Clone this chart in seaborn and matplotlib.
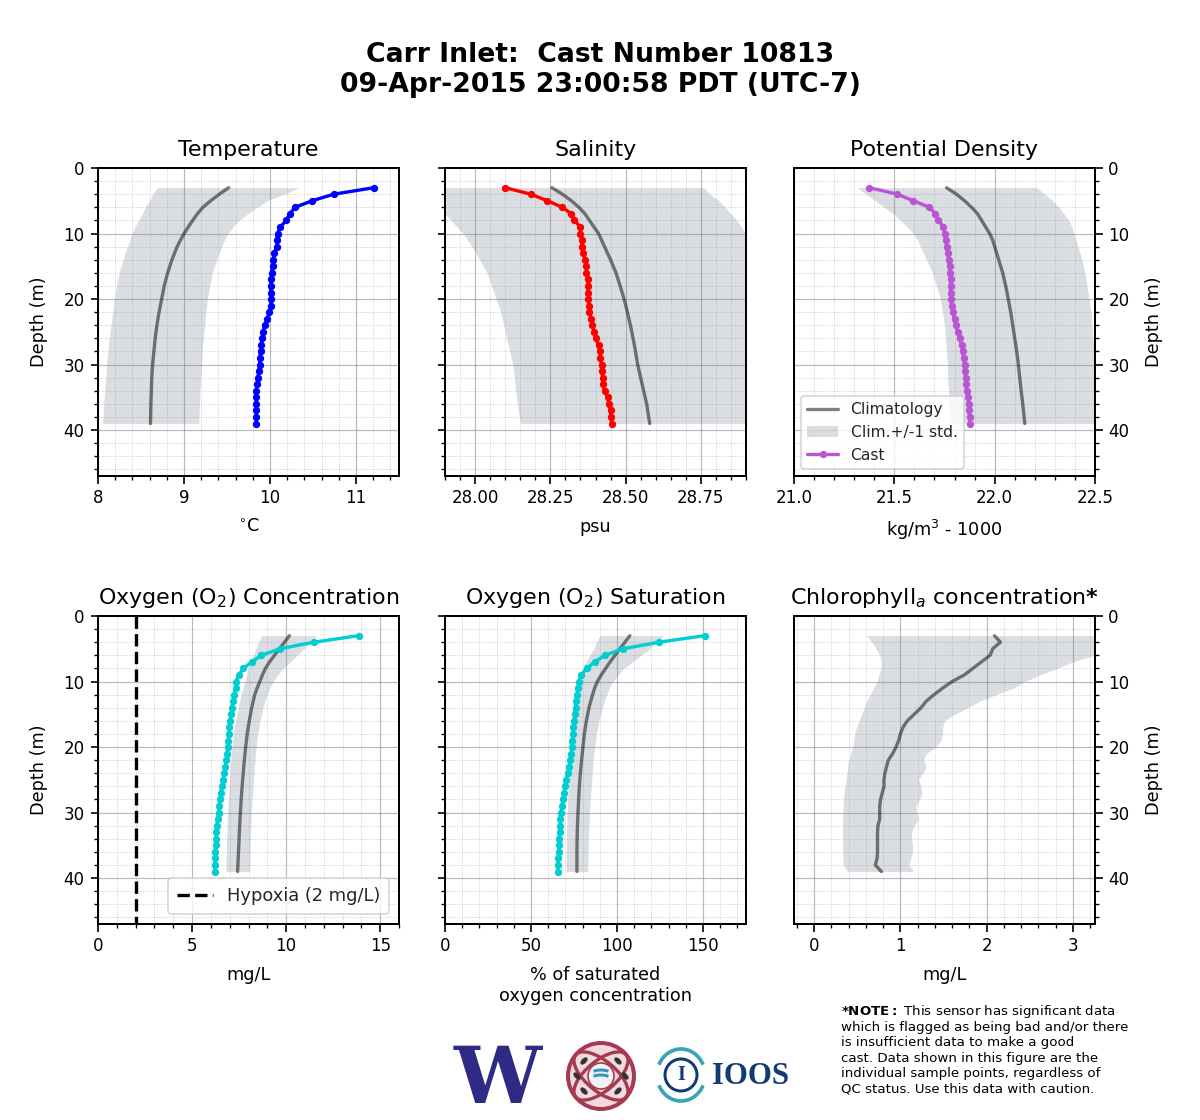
import numpy as np
import seaborn as sns
import matplotlib.pyplot as plt
from matplotlib.patches import Ellipse, Arc, Circle
from matplotlib.ticker import AutoMinorLocator

depth = list(range(3, 40))
clim_depth = [3, 4, 5, 6, 7, 8, 9, 10, 11, 12, 14, 16, 18, 20, 22, 24, 26, 28, 30, 32, 34, 36, 39]

temp_cast = [11.21, 10.74, 10.49, 10.29, 10.23, 10.19, 10.12, 10.09, 10.08, 10.08, 10.05, 10.04, 10.03,
             10.02, 10.01, 10.01, 10.01, 10.01, 10.01, 9.99, 9.97, 9.94, 9.92, 9.91, 9.90, 9.89, 9.88,
             9.88, 9.87, 9.86, 9.85, 9.84, 9.84, 9.84, 9.84, 9.84, 9.84]
temp_clim = [9.52, 9.41, 9.31, 9.22, 9.155, 9.10, 9.05, 9.0, 8.96, 8.92, 8.86, 8.81, 8.77, 8.74, 8.71, 8.685,
             8.665, 8.65, 8.635, 8.625, 8.62, 8.615, 8.61]
temp_lo = [8.69, 8.64, 8.60, 8.55, 8.515, 8.47, 8.43, 8.395, 8.37, 8.34, 8.29, 8.245, 8.215, 8.19, 8.17, 8.15,
           8.13, 8.115, 8.10, 8.09, 8.08, 8.065, 8.055]
temp_hi = [10.34, 10.16, 9.97, 9.85, 9.74, 9.64, 9.57, 9.51, 9.47, 9.44, 9.38, 9.33, 9.30, 9.27, 9.255, 9.24,
           9.225, 9.21, 9.205, 9.195, 9.185, 9.18, 9.17]

sal_cast = [28.10, 28.185, 28.24, 28.29, 28.32, 28.33, 28.35, 28.35, 28.355, 28.355, 28.36, 28.365, 28.37,
            28.37, 28.375, 28.375, 28.375, 28.375, 28.38, 28.38, 28.385, 28.39, 28.395, 28.40, 28.41,
            28.415, 28.415, 28.42, 28.42, 28.425, 28.425, 28.43, 28.44, 28.445, 28.45, 28.45, 28.455]
sal_clim = [28.255, 28.29, 28.32, 28.345, 28.365, 28.38, 28.395, 28.41, 28.42, 28.43, 28.45, 28.468, 28.482,
            28.495, 28.506, 28.516, 28.525, 28.533, 28.54, 28.55, 28.56, 28.57, 28.58]
sal_lo = [27.70, 27.76, 27.81, 27.85, 27.90, 27.92, 27.94, 27.96, 27.975, 27.99, 28.015, 28.04, 28.055, 28.07,
          28.085, 28.095, 28.105, 28.115, 28.125, 28.13, 28.135, 28.14, 28.15]
sal_hi = [28.76, 28.78, 28.81, 28.83, 28.85, 28.87, 28.885, 28.90, 28.915, 28.93, 28.95, 28.98, 29.0, 29.02,
          29.03, 29.04, 29.05, 29.05, 29.06, 29.07, 29.07, 29.08, 29.08]

rho_cast = [21.375, 21.515, 21.595, 21.675, 21.705, 21.72, 21.745, 21.75, 21.755, 21.76, 21.765, 21.77, 21.775,
            21.775, 21.78, 21.78, 21.78, 21.78, 21.785, 21.79, 21.80, 21.805, 21.815, 21.825, 21.835,
            21.84, 21.845, 21.85, 21.85, 21.855, 21.855, 21.86, 21.865, 21.87, 21.87, 21.875, 21.875]
rho_clim = [21.76, 21.81, 21.85, 21.885, 21.915, 21.935, 21.955, 21.975, 21.99, 22.0, 22.02, 22.04, 22.055,
            22.068, 22.08, 22.09, 22.10, 22.11, 22.118, 22.125, 22.132, 22.14, 22.15]
rho_lo = [21.315, 21.36, 21.405, 21.45, 21.495, 21.53, 21.565, 21.595, 21.615, 21.63, 21.66, 21.69, 21.71,
          21.73, 21.74, 21.75, 21.755, 21.76, 21.765, 21.765, 21.77, 21.77, 21.775]
rho_hi = [22.21, 22.25, 22.29, 22.32, 22.345, 22.37, 22.385, 22.395, 22.405, 22.415, 22.435, 22.45, 22.46,
          22.47, 22.48, 22.485, 22.49, 22.495, 22.50, 22.505, 22.51, 22.515, 22.52]

oxy_cast = [13.87, 11.47, 9.66, 8.69, 8.17, 7.73, 7.48, 7.35, 7.32, 7.25, 7.18, 7.12, 7.07, 7.03, 6.98, 6.95,
            6.93, 6.89, 6.86, 6.82, 6.77, 6.71, 6.66, 6.59, 6.52, 6.48, 6.45, 6.41, 6.36, 6.32, 6.29, 6.27,
            6.25, 6.23, 6.22, 6.20, 6.20]
oxy_clim = [10.18, 9.91, 9.65, 9.38, 9.12, 8.90, 8.74, 8.60, 8.46, 8.33, 8.17, 8.04, 7.93, 7.85, 7.78, 7.72,
            7.66, 7.61, 7.57, 7.53, 7.50, 7.47, 7.42]
oxy_lo = [8.69, 8.54, 8.40, 8.25, 8.10, 7.98, 7.88, 7.80, 7.70, 7.60, 7.45, 7.32, 7.2, 7.12, 7.06, 7.01, 6.97,
          6.93, 6.89, 6.86, 6.84, 6.82, 6.80]
oxy_hi = [11.6, 11.35, 10.94, 10.58, 10.23, 9.84, 9.55, 9.31, 9.13, 8.99, 8.77, 8.60, 8.48, 8.40, 8.34, 8.29,
          8.24, 8.19, 8.15, 8.12, 8.10, 8.08, 8.06]

sat_cast = [151, 124.4, 103.5, 93, 87, 82.5, 79, 78, 77.3, 76.7, 76.2, 75.9, 75.6, 75, 74.7, 74.4, 74.1, 73.8,
            73.3, 72.7, 72.1, 71.5, 70.3, 69.8, 69.2, 68.6, 68, 67.4, 67.1, 66.9, 66.6, 66.3, 66.3, 66,
            65.7, 65.7, 65.7]
sat_clim = [107.5, 104.6, 101.7, 98.8, 96, 93.4, 90.8, 88.6, 87, 85.8, 83.7, 82.2, 81, 80.2, 79.4, 78.7, 78.1,
            77.7, 77.3, 77, 76.8, 76.7, 76.7]
sat_lo = [90, 88, 86.6, 84, 82, 80, 78.5, 77.3, 76.3, 75.5, 74.4, 73.6, 73.1, 72.7, 72.3, 71.9, 71.6, 71.3, 71,
          70.8, 70.6, 70.5, 70.3]
sat_hi = [127, 123, 119, 114, 109, 104, 100.5, 97.7, 95.5, 94, 91.5, 89.5, 88, 87, 86.2, 85.6, 85, 84.5, 84,
          83.7, 83.4, 83.2, 83]

chl_clim = [2.09, 2.16, 2.07, 2.04, 1.94, 1.84, 1.74, 1.60, 1.49, 1.39, 1.30, 1.24, 1.16, 1.08, 1.03, 1.0,
            0.98, 0.95, 0.91, 0.86, 0.84, 0.82, 0.81, 0.81, 0.79, 0.77, 0.76, 0.76, 0.76, 0.74, 0.735,
            0.735, 0.735, 0.735, 0.73, 0.71, 0.78]
chl_lo = [0.61, 0.67, 0.72, 0.76, 0.78, 0.775, 0.75, 0.73, 0.69, 0.65, 0.61, 0.58, 0.55, 0.52, 0.49, 0.47,
          0.46, 0.45, 0.42, 0.40, 0.39, 0.38, 0.37, 0.36, 0.35, 0.34, 0.335, 0.335, 0.33, 0.33, 0.33, 0.33,
          0.33, 0.33, 0.335, 0.34, 0.39]
chl_hi = [3.6, 3.55, 3.5, 3.25, 3.0, 2.81, 2.62, 2.44, 2.31, 2.11, 1.92, 1.78, 1.63, 1.51, 1.49, 1.49, 1.47,
          1.41, 1.30, 1.27, 1.30, 1.26, 1.21, 1.24, 1.25, 1.22, 1.18, 1.19, 1.21, 1.16, 1.13, 1.13, 1.14,
          1.14, 1.12, 1.10, 1.15]

titles = ["Temperature", "Salinity", "Potential Density",
          r"Oxygen (O$_2$) Concentration", r"Oxygen (O$_2$) Saturation",
          r"Chlorophyll$_{\mathit{a}}$ concentration$\bf{*}$"]
xlabels = [r"$^{\circ}$C", "psu", r"kg/m$^3$ - 1000", "mg/L",
           "% of saturated\noxygen concentration", "mg/L"]
xlims = [(8, 11.5), (27.9, 28.9), (21, 22.5), (0, 16), (0, 175), (-0.233, 3.256)]
xticks = [[8, 9, 10, 11], [28, 28.25, 28.5, 28.75], [21, 21.5, 22, 22.5],
          [0, 5, 10, 15], [0, 50, 100, 150], [0, 1, 2, 3]]
xticklabels = [["8", "9", "10", "11"], ["28.00", "28.25", "28.50", "28.75"],
               ["21.0", "21.5", "22.0", "22.5"], ["0", "5", "10", "15"],
               ["0", "50", "100", "150"], ["0", "1", "2", "3"]]
cast_colors = ["blue", "red", "mediumorchid", "darkturquoise", "darkturquoise"]
casts = [temp_cast, sal_cast, rho_cast, oxy_cast, sat_cast]
clims = [temp_clim, sal_clim, rho_clim, oxy_clim, sat_clim]
los = [temp_lo, sal_lo, rho_lo, oxy_lo, sat_lo]
his = [temp_hi, sal_hi, rho_hi, oxy_hi, sat_hi]

sns.set_style("ticks")
plt.rcParams['font.family'] = ['DejaVu Sans']
plt.rcParams['mathtext.default'] = 'regular'
W, H = 1200.0, 1120.0
fig = plt.figure(figsize=(10, 1120 / 120.0), dpi=120)

lefts = [98, 445, 794]
tops = [168, 616]
axes = []
for r in range(2):
    for c in range(3):
        axes.append(fig.add_axes([lefts[c] / W, 1 - (tops[r] + 308) / H, 301 / W, 308 / H]))

for i, ax in enumerate(axes):
    if i < 5:
        ax.fill_betweenx(clim_depth, los[i], his[i], color="#7a8594", alpha=0.28, lw=0, zorder=2,
                         label="Clim.+/-1 std.")
        sns.lineplot(x=clims[i], y=clim_depth, orient="y", sort=False, estimator=None, color="k", alpha=0.5,
                     lw=2.0, ax=ax, zorder=3, label="Climatology")
        sns.lineplot(x=casts[i], y=depth, orient="y", sort=False, estimator=None, color=cast_colors[i], lw=2.0,
                     marker="o", markersize=4.4, markeredgewidth=0, ax=ax, zorder=4, label="Cast")
    else:
        ax.fill_betweenx(depth, chl_lo, chl_hi, color="#7a8594", alpha=0.28, lw=0, zorder=2)
        sns.lineplot(x=chl_clim, y=depth, orient="y", sort=False, estimator=None, color="k", alpha=0.5,
                     lw=2.0, ax=ax, zorder=3)
    ax.set_xlim(xlims[i])
    ax.set_ylim(47, 0)
    ax.set_xticks(xticks[i])
    ax.set_xticklabels(xticklabels[i])
    ax.set_yticks([0, 10, 20, 30, 40])
    ax.xaxis.set_minor_locator(AutoMinorLocator(5))
    ax.yaxis.set_minor_locator(AutoMinorLocator(5))
    ax.grid(True, which="major", color="0.5", alpha=0.55, lw=0.7, zorder=1)
    ax.grid(True, which="minor", color="0.6", alpha=0.5, lw=0.4, ls=(0, (2, 1.5)), zorder=1)
    ax.set_axisbelow(True)
    ax.tick_params(which="major", labelsize=10, length=4.5, width=1.0, pad=3.5, color="k", labelcolor="k")
    ax.tick_params(which="minor", length=2.5, width=0.8, color="k")
    for s in ax.spines.values():
        s.set_linewidth(1.2)
        s.set_color("k")
        s.set_visible(True)
    ax.set_title(titles[i], fontsize=13.3, pad=7.5, color="k")
    ax.set_xlabel(xlabels[i], fontsize=10.6, labelpad=6.1, color="k", linespacing=1.25)
    c = i % 3
    if c == 0:
        ax.set_ylabel("Depth (m)", fontsize=10.6, labelpad=9.2, color="k")
    elif c == 1:
        ax.set_ylabel("")
        ax.tick_params(axis="y", which="both", labelleft=False)
    else:
        ax.yaxis.tick_right()
        ax.yaxis.set_label_position("right")
        ax.set_ylabel("Depth (m)", fontsize=10.6, labelpad=9.2, color="k")
    if ax.get_legend() is not None:
        ax.get_legend().remove()

# hypoxia line and the two legends
sns.lineplot(x=[2, 2], y=[0, 47], orient="y", sort=False, estimator=None, color="k", lw=2.0, ax=axes[3],
             zorder=3, label="Hypoxia (2 mg/L)", linestyle="--")
hand, lab = axes[3].get_legend_handles_labels()
axes[3].legend([hand[-1]], [lab[-1]], loc="lower right", fontsize=10.7, frameon=True,
               framealpha=0.8, edgecolor="0.8", borderaxespad=0.55, borderpad=0.5)
hand, lab = axes[2].get_legend_handles_labels()
order = [lab.index("Climatology"), lab.index("Clim.+/-1 std."), lab.index("Cast")]
axes[2].legend([hand[k] for k in order], [lab[k] for k in order], loc="lower left", fontsize=9.3,
               frameon=True, framealpha=0.8, edgecolor="0.8", borderaxespad=0.45)

fig.text(600 / W, 1 - 55 / H, "Carr Inlet:  Cast Number 10813", ha="center", va="center",
         fontsize=16, fontweight="bold", color="k")
fig.text(600 / W, 1 - 85 / H, "09-Apr-2015 23:00:58 PDT (UTC-7)", ha="center", va="center",
         fontsize=16, fontweight="bold", color="k")

note_lines = [r"$\bf{*NOTE:}$ This sensor has significant data",
              "which is flagged as being bad and/or there",
              "is insufficient data to make a good",
              "cast. Data shown in this figure are the",
              "individual sample points, regardless of",
              "QC status. Use this data with caution."]
for k, line in enumerate(note_lines):
    fig.text(841 / W, 1 - (1012 + k * 15.4) / H, line, ha="left", va="center", fontsize=8.0, color="k")

# logos, drawn in figure pixels
logo = fig.add_axes([0, 0, 1, 1], zorder=-1)
logo.set_xlim(0, W)
logo.set_ylim(H, 0)
logo.axis("off")
logo.text(498, 1081, "W", ha="center", va="center", fontsize=47, fontweight="bold",
          family="DejaVu Serif", color="#2e2a85")
logo.add_patch(Ellipse((601, 1076), 66, 66, fc="#f0dadd", ec="#a63a50", lw=2.4))
for a in (40, 140):
    logo.add_patch(Arc((601, 1076), 66, 30, angle=a, color="#a63a50", lw=2.0))
for dx, dy in [(-17, -15), (17, -15), (-17, 15), (17, 15), (-24, 0), (24, 0)]:
    logo.add_patch(Ellipse((601 + dx, 1076 + dy), 5, 9, angle=45 if dx * dy > 0 else -45, fc="#333333", ec="none"))
logo.add_patch(Ellipse((601, 1076), 26, 26, fc="#eef3f6", ec="#a63a50", lw=1.0))
logo.add_patch(Arc((601, 1079), 20, 8, theta1=200, theta2=340, color="#3b8fc0", lw=1.8))
logo.add_patch(Arc((601, 1074), 20, 8, theta1=200, theta2=340, color="#3b8fc0", lw=1.8))
logo.add_patch(Arc((681, 1075), 48, 52, theta1=25, theta2=155, color="#3aa3b5", lw=2.2))
logo.add_patch(Arc((681, 1075), 48, 52, theta1=205, theta2=335, color="#3aa3b5", lw=2.2))
logo.add_patch(Circle((681, 1075), 16, fc="none", ec="#123a73", lw=1.8))
logo.text(681, 1075, "I", ha="center", va="center", fontsize=12, fontweight="bold",
          family="Liberation Serif", color="#123a73")
logo.text(751, 1076, "IOOS", ha="center", va="center", fontsize=18.5, fontweight="bold",
          family="Liberation Serif", color="#123a73")

fig.savefig("out.png", dpi=120, facecolor="white")
